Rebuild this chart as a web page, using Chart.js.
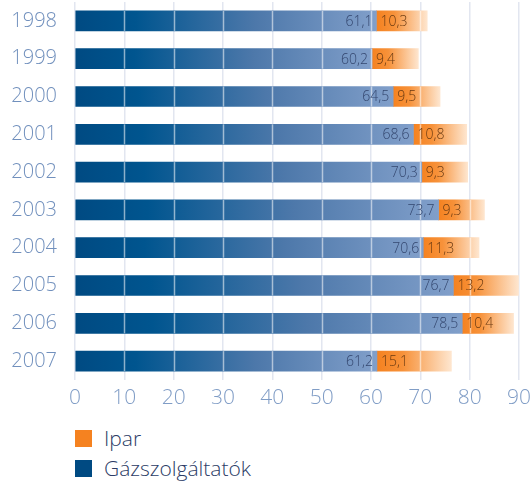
<!DOCTYPE html>
<html lang="hu">
<head>
<meta charset="UTF-8">
<title>Gázszolgáltatók és Ipar</title>
<script src="https://cdn.jsdelivr.net/npm/chart.js"></script>
<style>
    body {
        margin: 0;
        background: #fff;
        font-family: "Open Sans", sans-serif;
    }
    #wrap {
        position: relative;
        width: 531px;
        height: 484px;
    }
    #chartBox {
        position: absolute;
        left: 0;
        top: 0;
        width: 531px;
        height: 414px;
    }
    #legend {
        position: absolute;
        left: 75px;
        top: 423px;
        margin: 0;
        padding: 0;
        list-style: none;
    }
    #legend li {
        height: 30px;
        line-height: 24px;
        font-size: 21px;
        font-weight: 300;
        color: #2c3c66;
        display: flex;
        align-items: center;
    }
    #legend span {
        display: inline-block;
        width: 17px;
        height: 17px;
        margin-right: 12px;
    }
</style>
</head>
<body>
<div id="wrap">
    <div id="chartBox"><canvas id="chart"></canvas></div>
    <ul id="legend"></ul>
</div>
<script>
    const years = ['1998', '1999', '2000', '2001', '2002', '2003', '2004', '2005', '2006', '2007'];
    const gazszolgaltatok = [61.1, 60.2, 64.5, 68.6, 70.3, 73.7, 70.6, 76.7, 78.5, 61.2];
    const ipar = [10.3, 9.4, 9.5, 10.8, 9.3, 9.3, 11.3, 13.2, 10.4, 15.1];
    const xTicks = [0, 10, 20, 30, 40, 50, 60, 70, 80, 90];

    const FONT = '"Open Sans", sans-serif';
    const fmt = v => v.toFixed(1).replace('.', ',');

    // gradient along one bar, from its start value to its end value
    function barGradient(ctx, stops, from, to) {
        const chart = ctx.chart;
        const x = chart.scales && chart.scales.x;
        if (!x || !chart.chartArea) return stops[0][1];
        const x0 = x.getPixelForValue(from);
        const x1 = x.getPixelForValue(to);
        if (!isFinite(x0) || !isFinite(x1) || x1 - x0 < 1) return stops[0][1];
        const g = chart.ctx.createLinearGradient(x0, 0, x1, 0);
        stops.forEach(s => g.addColorStop(s[0], s[1]));
        return g;
    }

    const blueStops = [[0, '#004a82'], [0.2, '#00558f'], [0.6, '#4d78aa'], [1, '#819fca']];
    const orangeStops = [[0, '#f58220'], [0.35, '#f7923a'], [1, '#fee6cf']];

    // grid lines show white where they cross the bars
    const gridOverBars = {
        id: 'gridOverBars',
        afterDatasetsDraw(chart) {
            const c = chart.ctx;
            const x = chart.scales.x;
            c.save();
            c.strokeStyle = 'rgba(255,255,255,0.55)';
            c.lineWidth = 1.5;
            chart.getDatasetMeta(1).data.forEach((bar, i) => {
                const top = bar.y - bar.height / 2;
                const bottom = bar.y + bar.height / 2;
                xTicks.forEach(t => {
                    if (t === 0 || t >= gazszolgaltatok[i] + ipar[i]) return;
                    const px = Math.round(x.getPixelForValue(t)) + 0.5;
                    c.beginPath();
                    c.moveTo(px, top);
                    c.lineTo(px, bottom);
                    c.stroke();
                });
            });
            c.restore();
        }
    };

    // value labels: blue ones at the end of the blue part, orange ones at the start of the orange part
    const valueLabels = {
        id: 'valueLabels',
        afterDraw(chart) {
            const c = chart.ctx;
            c.save();
            c.font = '300 14px ' + FONT;
            c.textBaseline = 'middle';
            chart.getDatasetMeta(0).data.forEach((bar, i) => {
                c.fillStyle = '#34476f';
                c.textAlign = 'right';
                c.fillText(fmt(gazszolgaltatok[i]), bar.x - 4, bar.y + 1);
            });
            chart.getDatasetMeta(1).data.forEach((bar, i) => {
                c.fillStyle = '#6a3a12';
                c.textAlign = 'left';
                c.fillText(fmt(ipar[i]), bar.base + 4, bar.y + 1);
            });
            c.restore();
        }
    };

    const chart = new Chart(document.getElementById('chart'), {
        type: 'bar',
        data: {
            labels: years,
            datasets: [
                {
                    label: 'Gázszolgáltatók',
                    data: gazszolgaltatok,
                    legendColor: '#004a82',
                    backgroundColor: ctx => barGradient(ctx, blueStops, 0, gazszolgaltatok[ctx.dataIndex]),
                    barThickness: 20,
                    borderWidth: 0
                },
                {
                    label: 'Ipar',
                    data: ipar,
                    legendColor: '#f58220',
                    backgroundColor: ctx => barGradient(ctx, orangeStops,
                        gazszolgaltatok[ctx.dataIndex], gazszolgaltatok[ctx.dataIndex] + ipar[ctx.dataIndex]),
                    barThickness: 20,
                    borderWidth: 0
                }
            ]
        },
        options: {
            indexAxis: 'y',
            responsive: true,
            maintainAspectRatio: false,
            animation: false,
            layout: { padding: { top: 2, right: 0, left: 0, bottom: 0 } },
            plugins: {
                legend: { display: false },
                tooltip: { enabled: false }
            },
            scales: {
                x: {
                    stacked: true,
                    min: 0,
                    max: 90,
                    afterBuildTicks: axis => { axis.ticks = xTicks.map(v => ({ value: v })); },
                    grid: { color: '#e2e6f0', lineWidth: 1.5, drawTicks: false },
                    border: { display: false },
                    ticks: {
                        color: '#809dc6',
                        padding: 5,
                        font: { family: FONT, size: 21, weight: 300 }
                    },
                    afterFit: axis => {
                        axis.height = 34;
                        axis.paddingRight = 12;
                    }
                },
                y: {
                    stacked: true,
                    grid: { display: false },
                    border: { display: false },
                    ticks: {
                        color: '#7190bd',
                        padding: 10,
                        font: { family: FONT, size: 20, weight: 300 }
                    },
                    afterFit: axis => {
                        axis.width = 75;
                        axis.paddingTop = 0;
                        axis.paddingBottom = 0;
                    }
                }
            }
        },
        plugins: [gridOverBars, valueLabels]
    });

    // legend: Ipar first, then Gázszolgáltatók
    const legend = document.getElementById('legend');
    chart.data.datasets.slice().reverse().forEach(ds => {
        const li = document.createElement('li');
        const box = document.createElement('span');
        box.style.background = ds.legendColor;
        li.appendChild(box);
        li.appendChild(document.createTextNode(ds.label));
        legend.appendChild(li);
    });
</script>
</body>
</html>
